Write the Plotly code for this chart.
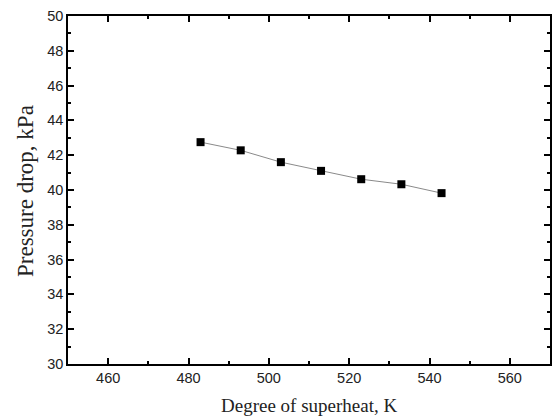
import plotly.graph_objects as go

superheat_K = [483, 493, 503, 513, 523, 533, 543]
pressure_drop_kPa = [42.75, 42.28, 41.6, 41.1, 40.62, 40.33, 39.82]
x_ticks = [460, 480, 500, 520, 540, 560]
y_ticks = [30, 32, 34, 36, 38, 40, 42, 44, 46, 48, 50]
x_title = "Degree of superheat, K"
y_title = "Pressure drop, kPa"

fig = go.Figure()
fig.add_trace(go.Scatter(
    x=superheat_K, y=pressure_drop_kPa, mode="lines+markers",
    line=dict(color="#8a8a8a", width=1),
    marker=dict(symbol="square", size=8, color="black", line=dict(width=0)),
    showlegend=False,
))

axis_common = dict(
    showline=True, linecolor="black", linewidth=1.5, mirror="ticks",
    ticks="inside", ticklen=6, tickwidth=1.5, tickcolor="black",
    showgrid=False, zeroline=False, automargin=False,
    tickfont=dict(family="Liberation Sans, Arial", size=14.5, color="#222"),
)

fig.update_layout(
    width=552, height=417,
    margin=dict(l=68, r=2, t=16, b=53),
    paper_bgcolor="white", plot_bgcolor="white",
    xaxis=dict(
        range=[450, 570], tickvals=x_ticks,
        minor=dict(ticks="inside", ticklen=3, tickwidth=1.5, tickcolor="black", dtick=10, tick0=450),
        **axis_common,
    ),
    yaxis=dict(
        range=[30, 50], tickvals=y_ticks,
        minor=dict(ticks="inside", ticklen=3, tickwidth=1.5, tickcolor="black", dtick=1, tick0=30),
        **axis_common,
    ),
    annotations=[
        dict(text=x_title, xref="paper", yref="paper", x=0.5, y=0, yshift=-41,
             xanchor="center", yanchor="middle", showarrow=False,
             font=dict(family="Liberation Serif, Times New Roman", size=19, color="#222")),
        dict(text=y_title, xref="paper", yref="paper", x=0, y=0.5, xshift=-43, yshift=-1,
             xanchor="center", yanchor="middle", textangle=-90, showarrow=False,
             font=dict(family="Liberation Serif, Times New Roman", size=23, color="#222")),
    ],
)

fig.write_html("out.html", config={"displayModeBar": False},
               post_script="document.body.style.margin='0';document.body.style.overflow='hidden';")
